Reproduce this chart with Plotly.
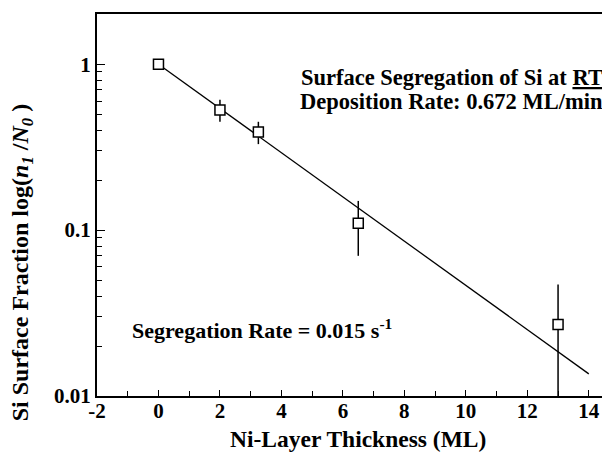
import plotly.graph_objects as go

# Data
thickness = [0, 2, 3.25, 6.5, 13]
fraction = [1.0, 0.53, 0.39, 0.11, 0.027]
err_plus = [0.0, 0.08, 0.06, 0.04, 0.02]
err_minus = [0.0, 0.08, 0.06, 0.04, 0.02]
fit_x = [0, 14]
fit_y = [1.0, 0.0136]
x_ticks = [-2, 0, 2, 4, 6, 8, 10, 12, 14]
x_ticklabels = ["-2", "0", "2", "4", "6", "8", "10", "12", "14"]
y_ticks = [0.01, 0.1, 1]
y_ticklabels = ["0.01", "0.1", "1"]

FONT = "Liberation Serif"

fig = go.Figure()
fig.add_trace(go.Scatter(x=fit_x, y=fit_y, mode="lines",
                         line=dict(color="black", width=1.3), showlegend=False))
fig.add_trace(go.Scatter(
    x=thickness, y=fraction, mode="markers",
    marker=dict(symbol="square", size=10, color="white",
                line=dict(color="black", width=1.5)),
    error_y=dict(type="data", array=err_plus, arrayminus=err_minus,
                 color="black", thickness=1.5, width=0),
    showlegend=False))

fig.update_layout(
    width=610, height=465,
    margin=dict(l=89, r=0, t=6, b=77),
    paper_bgcolor="white", plot_bgcolor="white",
    font=dict(family=FONT, color="black", size=21),
    xaxis=dict(range=[-2, 14.95], tickvals=x_ticks,
               ticktext=["<b>%s</b>" % t for t in x_ticklabels],
               ticks="inside", ticklen=6, tickwidth=1.3, tickcolor="black",
               ticklabelstandoff=-5,
               showline=True, linecolor="black", linewidth=2, mirror=True,
               showgrid=False, zeroline=False,
               tickfont=dict(family=FONT, size=21, color="black"),
               minor=dict(dtick=1, ticks="inside", ticklen=5, tickcolor="black", tickwidth=1.3)),
    yaxis=dict(type="log", range=[-2, 0.303], tickvals=y_ticks,
               ticktext=["<b>%s</b>" % t for t in y_ticklabels],
               ticks="inside", ticklen=8, tickwidth=1.3, tickcolor="black",
               showline=True, linecolor="black", linewidth=2,
               showgrid=False, zeroline=False,
               tickfont=dict(family=FONT, size=21, color="black"),
               minor=dict(dtick="D1", ticks="inside", ticklen=5, tickcolor="black", tickwidth=1.3)),
)

fig.add_annotation(xref="paper", yref="paper", x=0.5, y=-0.112, xanchor="center", yanchor="middle",
                   showarrow=False,
                   text="<b>Ni-Layer Thickness (ML)</b>",
                   font=dict(family=FONT, size=23.5))
fig.add_annotation(xref="paper", yref="paper", x=-0.144, y=0.35, xanchor="center", yanchor="middle",
                   textangle=-90, showarrow=False,
                   text="<b>Si Surface Fraction log(<i>n</i><sub><i>1</i></sub> /<i>N</i><sub><i>0</i></sub> )</b>",
                   font=dict(family=FONT, size=24))
fig.add_annotation(xref="paper", yref="paper", x=0.975, y=0.835, xanchor="right", yanchor="middle",
                   align="left", showarrow=False,
                   text="<b>Surface Segregation of Si at <span style='text-decoration:underline'>RT</span></b>",
                   font=dict(family=FONT, size=22.5))
fig.add_annotation(xref="paper", yref="paper", x=0.975, y=0.77, xanchor="right", yanchor="middle",
                   align="left", showarrow=False,
                   text="<b>Deposition Rate: 0.672 ML/min</b>",
                   font=dict(family=FONT, size=22.5))
fig.add_annotation(xref="paper", yref="paper", x=0.063, y=0.175, xanchor="left", yanchor="middle",
                   showarrow=False,
                   text="<b>Segregation Rate = 0.015 s<sup>-1</sup></b>",
                   font=dict(family=FONT, size=22))

fig.write_html("out.html")
